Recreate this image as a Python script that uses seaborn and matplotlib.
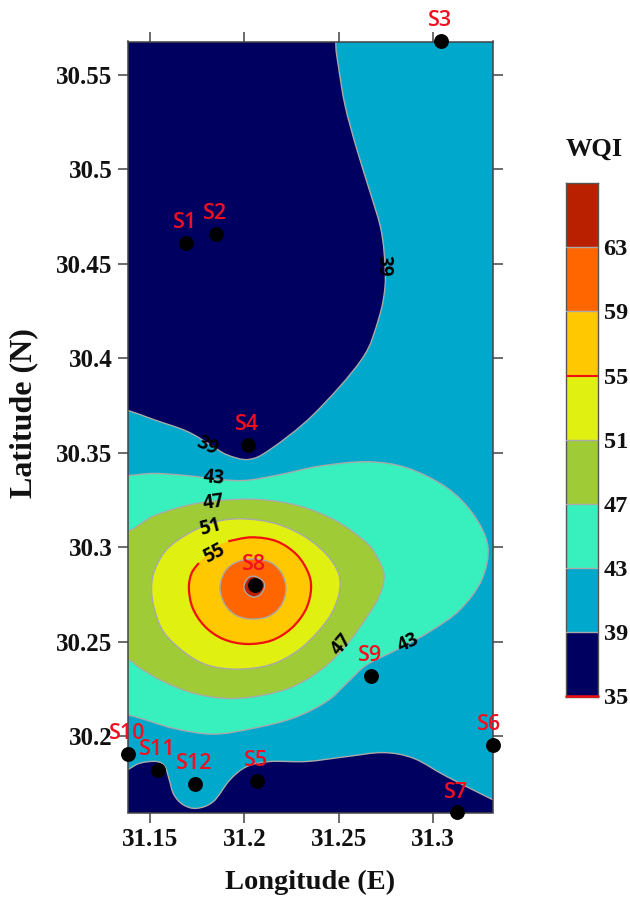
import numpy as np
import pandas as pd
import matplotlib
matplotlib.use("Agg")
import matplotlib.pyplot as plt
from matplotlib.path import Path
from matplotlib.patches import PathPatch
import seaborn as sns

# ---- stations ----
station_names = ["S1","S2","S3","S4","S5","S6","S7","S8","S9","S10","S11","S12"]
station_lon = [31.1691,31.1849,31.3042,31.2020,31.2066,31.3316,31.3130,31.2056,31.2670,31.1383,31.1543,31.1737]
station_lat = [30.4612,30.4660,30.5681,30.3540,30.1762,30.1951,30.1596,30.2800,30.2317,30.1904,30.1822,30.1746]

# ---- isolines (lon, lat) ----
c39_north_lon = [31.2481,31.2484,31.2498,31.2534,31.2596,31.2667,31.2720,31.2741,31.2746,31.2711,31.2622,31.2366,31.2136,31.2020,31.1905,31.1817,31.1693,31.1516,31.1378,31.1233,31.1233]
c39_north_lat = [30.6079,30.5682,30.5549,30.5337,30.5107,30.4878,30.4701,30.4559,30.4383,30.4206,30.3994,30.3702,30.3517,30.3464,30.3490,30.3543,30.3614,30.3676,30.3725,30.3764,30.6079]
c39_south_lon = [31.1233,31.1378,31.1445,31.1534,31.1578,31.1601,31.1625,31.1675,31.1746,31.1835,31.1923,31.2012,31.2136,31.2330,31.2543,31.2737,31.2897,31.3074,31.3313,31.3463,31.3463,31.1233]
c39_south_lat = [30.1750,30.1821,30.1856,30.1865,30.1838,30.1768,30.1690,30.1636,30.1617,30.1653,30.1768,30.1838,30.1865,30.1865,30.1891,30.1912,30.1882,30.1785,30.1665,30.1591,30.1308,30.1308]
c43_lon = [31.1233,31.1378,31.1516,31.1693,31.1870,31.2012,31.2189,31.2401,31.2649,31.2861,31.3074,31.3215,31.3291,31.3259,31.3144,31.2985,31.2808,31.2649,31.2543,31.2436,31.2259,31.2047,31.1835,31.1622,31.1378,31.1233]
c43_lat = [30.3379,30.3379,30.3390,30.3379,30.3358,30.3354,30.3384,30.3429,30.3452,30.3420,30.3314,30.3172,30.3005,30.2828,30.2669,30.2554,30.2457,30.2377,30.2280,30.2183,30.2095,30.2041,30.2010,30.2041,30.2112,30.2112]
c47_lon = [31.1233,31.1378,31.1516,31.1693,31.1870,31.2082,31.2295,31.2490,31.2649,31.2711,31.2741,31.2711,31.2640,31.2543,31.2419,31.2259,31.2082,31.1905,31.1728,31.1569,31.1445,31.1378,31.1233]
c47_lat = [30.3084,30.3084,30.3164,30.3220,30.3247,30.3252,30.3217,30.3137,30.3022,30.2934,30.2845,30.2731,30.2616,30.2483,30.2360,30.2262,30.2213,30.2199,30.2227,30.2289,30.2360,30.2404,30.2404]
c51_lon = [31.1507,31.1525,31.1587,31.1693,31.1817,31.1941,31.2082,31.2206,31.2330,31.2436,31.2498,31.2504,31.2463,31.2383,31.2277,31.2136,31.1959,31.1799,31.1675,31.1569,31.1521]
c51_lat = [30.2784,30.2881,30.2987,30.3066,30.3125,30.3149,30.3142,30.3111,30.3049,30.2960,30.2863,30.2766,30.2651,30.2545,30.2448,30.2377,30.2354,30.2377,30.2448,30.2554,30.2678]
c55_lon = [31.1914,31.2038,31.2171,31.2277,31.2339,31.2353,31.2325,31.2251,31.2144,31.2012,31.1888,31.1790,31.1725,31.1705,31.1720,31.1758,31.1826]
c55_lat = [30.3031,30.3052,30.3031,30.2960,30.2863,30.2775,30.2669,30.2572,30.2506,30.2487,30.2513,30.2580,30.2678,30.2784,30.2863,30.2916,30.2987]
c59_lon = [31.1870,31.1897,31.1959,31.2047,31.2136,31.2197,31.2220,31.2197,31.2136,31.2047,31.1959,31.1897]
c59_lat = [30.2784,30.2872,30.2921,30.2937,30.2920,30.2863,30.2780,30.2695,30.2637,30.2619,30.2637,30.2695]
c63_lon = [31.1997,31.2020,31.2056,31.2100,31.2105,31.2082,31.2047,31.2012]
c63_lat = [30.2792,30.2837,30.2845,30.2819,30.2784,30.2748,30.2736,30.2754]

# ---- isoline labels ----
iso_text = ["39","39","43","47","51","55","47","43"]
iso_lon = [31.2737,31.1804,31.1838,31.1838,31.1817,31.1840,31.2518,31.2870]
iso_lat = [30.4488,30.3535,30.3365,30.3238,30.3102,30.2966,30.2483,30.2492]
iso_rot = [-90,-25,-5,8,15,28,50,25]

# ---- scale ----
levels = [35,39,43,47,51,55,59,63,67]
level_ticks = [35,39,43,47,51,55,59,63]
band_colors = ["#000060","#00A9CC","#38F0BE","#9ECB36","#E0F010","#FFC800","#FF6600","#B82000"]
x_ticks = [31.15,31.2,31.25,31.3]
x_tick_labels = ["31.15","31.2","31.25","31.3"]
y_ticks = [30.2,30.25,30.3,30.35,30.4,30.45,30.5,30.55]
y_tick_labels = ["30.2","30.25","30.3","30.35","30.4","30.45","30.5","30.55"]

sns.set_style("white")
plt.rcParams["font.family"] = ["Liberation Serif", "DejaVu Serif"]
plt.rcParams["font.weight"] = "bold"

W, H = 630, 898
fig = plt.figure(figsize=(W/100, H/100), dpi=100)
ax = fig.add_axes([128/W, 1-812.5/H, 364.5/W, 771/H])
ax.set_facecolor(band_colors[1])
ax.set_xlim(31.1382, 31.3316)
ax.set_ylim(30.1595, 30.5677)


def smooth_path(xs, ys, closed=True):
    """Bezier path through the read points; matplotlib renders the curve."""
    p = np.column_stack([xs, ys])
    n = len(p)
    idx = (lambda i: i % n) if closed else (lambda i: min(max(i, 0), n - 1))
    verts = [p[0]]
    codes = [Path.MOVETO]
    for i in range(n if closed else n - 1):
        a, b, c, d = p[idx(i - 1)], p[idx(i)], p[idx(i + 1)], p[idx(i + 2)]
        verts += [b + (c - a) / 6, c - (d - b) / 6, c]
        codes += [Path.CURVE4] * 3
    return Path(verts, codes)


GREY = "#A9A9A9"
regions = [
    (c39_north_lon, c39_north_lat, band_colors[0], GREY),
    (c39_south_lon, c39_south_lat, band_colors[0], GREY),
    (c43_lon, c43_lat, band_colors[2], GREY),
    (c47_lon, c47_lat, band_colors[3], GREY),
    (c51_lon, c51_lat, band_colors[4], GREY),
    (c55_lon, c55_lat, band_colors[5], "none"),
    (c59_lon, c59_lat, band_colors[6], GREY),
    (c63_lon, c63_lat, band_colors[7], GREY),
]
for i, (xs, ys, fc, ec) in enumerate(regions):
    ax.add_patch(PathPatch(smooth_path(xs, ys), facecolor=fc, edgecolor=ec, lw=1.0, zorder=2 + i * 0.1))
ax.add_patch(PathPatch(smooth_path(c55_lon[:-1], c55_lat[:-1], closed=False), facecolor="none",
                       edgecolor="#F01010", lw=1.6, zorder=3.5))

for t, x, y, r in zip(iso_text, iso_lon, iso_lat, iso_rot):
    ax.text(x, y, t, rotation=r, ha="center", va="center", color="black", fontsize=13.5,
            family="Open Sans", fontweight="bold", rotation_mode="anchor", zorder=4)

stations = pd.DataFrame({"lon": station_lon, "lat": station_lat, "name": station_names})
sns.scatterplot(data=stations, x="lon", y="lat", ax=ax, color="black", s=115, linewidth=0, clip_on=False, zorder=6, legend=False)
for row in stations.itertuples():
    dx = -2.2 if row.name == "S6" else -0.7
    ax.annotate(row.name, (row.lon, row.lat), xytext=(dx, 14.6), textcoords="offset points", ha="center", va="center",
                color="#F01020", fontsize=15.5, family="Open Sans", fontweight="semibold", annotation_clip=False, zorder=7)

ax.set_xticks(x_ticks, x_tick_labels)
ax.set_yticks(y_ticks, y_tick_labels)
ax.tick_params(axis="both", which="major", direction="out", length=7.2, width=1.1, color="#444444",
               top=True, right=True, bottom=True, left=True, labelsize=18, labelcolor="#111111")
ax.tick_params(axis="x", pad=4)
ax.tick_params(axis="y", pad=4)
for s in ax.spines.values():
    s.set_visible(True)
    s.set_color("#444444")
    s.set_linewidth(1.1)
    s.set_zorder(5)
ax.set_xlabel("")
ax.set_ylabel("")
fig.text(310/W, 1-882/H, "Longitude (E)", ha="center", va="center", fontsize=20.5, color="#111111")
fig.text(24/W, 1-413/H, "Latitude (N)", rotation=90, ha="center", va="center", fontsize=23, color="#111111")

# ---- colour scale ----
cax = fig.add_axes([566/W, 1-696.5/H, 32/W, 513.5/H])
cax.bar([0]*8, np.diff(levels), bottom=levels[:-1], width=1, color=band_colors, edgecolor="none")
cax.set_xlim(-0.5, 0.5)
cax.set_ylim(35, 67)
cax.set_xticks([])
cax.yaxis.tick_right()
cax.set_yticks(level_ticks, [str(v) for v in level_ticks])
cax.tick_params(axis="y", length=0, pad=4, labelsize=17.5, labelcolor="#111111", right=False)
for v in level_ticks[1:]:
    cax.axhline(v, color="#F01010" if v == 55 else GREY, lw=1.5 if v == 55 else 1.0, zorder=3)
cax.axhline(35.05, color="#F01010", lw=1.8, zorder=3, clip_on=False)
for s in cax.spines.values():
    s.set_visible(True)
    s.set_color("#555555")
    s.set_linewidth(1.0)
fig.text(594/W, 1-149/H, "WQI", ha="center", va="center", fontsize=19, color="#111111")

fig.savefig("out.png", dpi=100)
